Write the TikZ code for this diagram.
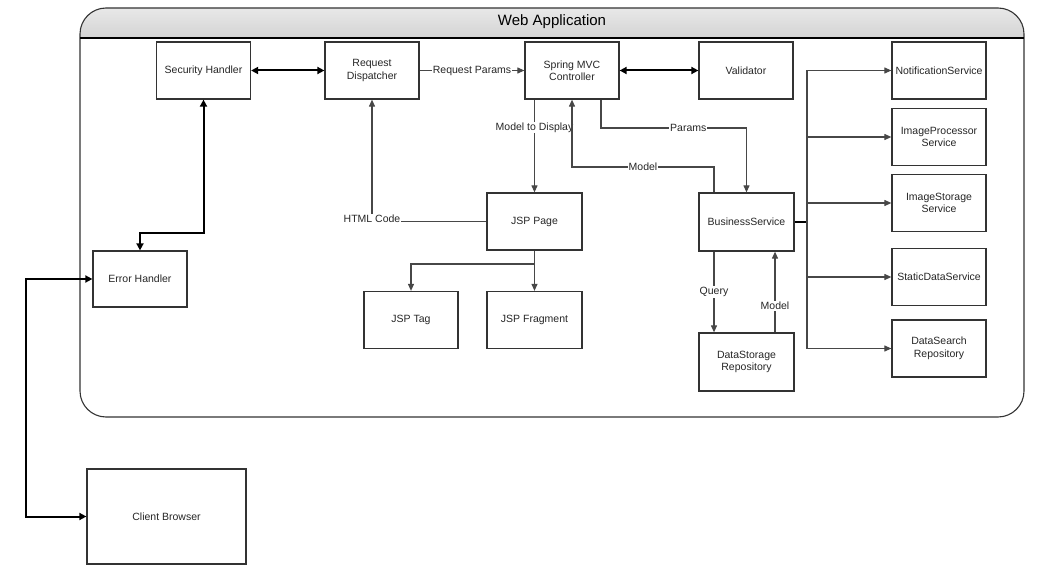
\documentclass[tikz,border=0pt]{standalone}
\usepackage{fontspec}
\setmainfont{Liberation Sans}
\usetikzlibrary{arrows.meta}

\tikzstyle{block} = [
        draw=black!80, line width=1.25pt, fill=white, rectangle, align=center,
        minimum height=57pt, minimum width=94pt, inner sep=2pt, text=black!85,
        font=\fontsize{10.5}{12.5}\selectfont
    ]
\tikzstyle{tmp} = [coordinate]
\tikzstyle{conn} = [draw=black!72, line width=1.1pt, -{Triangle[length=7pt,width=6pt]}]
\tikzstyle{thickconn} = [
        draw=black, line width=2pt,
        {Triangle[length=7pt,width=7pt]}-{Triangle[length=7pt,width=7pt]}
    ]
\tikzstyle{lbl} = [fill=white, inner sep=1pt, text=black!85, font=\fontsize{10.5}{12.5}\selectfont]

\begin{document}
\begin{tikzpicture}[x=1pt, y=-1pt]
        \useasboundingbox (0,0) rectangle (1045,572);
        % frame of the web application
        \begin{scope}
            \clip [rounded corners=26pt] (80,8) rectangle (1024,417);
            \shade [top color=black!9, middle color=black!2, bottom color=black!17] (80,8) rectangle (1024,38);
        \end{scope}
        \draw [black!80, line width=1.1pt, rounded corners=26pt] (80,8) rectangle (1024,417);
        \draw [black, line width=1.4pt] (80,38) -- (1024,38);
        \node [] (title) at (552,22) {\fontsize{15}{18}\selectfont Web Application};

        \node [block] (sechandler) at (203.5,70.5) {Security Handler};
        \node [block] (reqdisp) at (372,70.5) {Request\\Dispatcher};
        \node [block] (mvcctrl) at (572,70.5) {Spring MVC\\Controller};
        \node [block] (validator) at (746,70.5) {Validator};
        \node [block] (notifsvc) at (939,70.5) {NotificationService};
        \node [block] (imgproc) at (939,137) {ImageProcessor\\Service};
        \node [block] (imgstore) at (939,203) {ImageStorage\\Service};
        \node [block] (staticsvc) at (939,277) {StaticDataService};
        \node [block] (searchrepo) at (939,348.5) {DataSearch\\Repository};
        \node [block, minimum width=95pt] (jsppage) at (534.5,221.5) {JSP Page};
        \node [block] (jsptag) at (411,320) {JSP Tag};
        \node [block, minimum width=95pt, below of=jsppage, node distance=98.5pt] (jspfrag) {JSP Fragment};
        \node [block, minimum width=95pt, minimum height=58pt] (bizsvc) at (746.5,222) {BusinessService};
        \node [block, minimum width=95pt, minimum height=58pt, below of=bizsvc, node distance=140pt] (datastore) {DataStorage\\Repository};
        \node [block, minimum height=56pt] (errhandler) at (140,279) {Error Handler};
        \node [block, minimum width=159pt, minimum height=95pt] (browser) at (166.5,516.5) {Client Browser};

        \node [tmp] (secbend) at (203.5,233) {};
        \node [tmp] (clientbend) at (26,516.5) {};
        \node [tmp] (modelbend) at (714,167) {};
        \node [tmp] (paramsbend) at (601,128) {};
        \node [tmp] (tagbend) at (411,264) {};
        \node [tmp] (bus) at (807,222) {};

        \draw [thickconn] (sechandler) -- (reqdisp);
        \draw [thickconn] (mvcctrl) -- (validator);
        \draw [thickconn] (sechandler.south) -- (secbend) -| (errhandler.north);
        \draw [thickconn] (errhandler.west) -| (clientbend) -- (browser.west);
        \draw [conn] (reqdisp) -- node[lbl]{Request Params} (mvcctrl);
        \draw [conn] (jsppage.north |- mvcctrl.south) -- node[lbl, pos=0.3]{Model to Display} (jsppage.north);
        \draw [conn] (modelbend |- bizsvc.north) -- (modelbend) -- node[lbl]{Model} (modelbend -| mvcctrl) -- (mvcctrl.south);
        \draw [conn] (paramsbend |- mvcctrl.south) -- (paramsbend) -- node[lbl, pos=0.6]{Params} (paramsbend -| bizsvc) -- (bizsvc.north);
        \draw [conn] (jsppage.west) -- node[lbl, pos=1, yshift=3pt]{HTML Code} (jsppage.west -| reqdisp) -- (reqdisp.south);
        \draw [conn] (jsppage) -- (jspfrag);
        \draw [conn] (jsppage.south) |- (tagbend) -- (jsptag.north);
        \draw [conn] ([xshift=-32.5pt]bizsvc.south) -- node[lbl]{Query} ([xshift=-32.5pt]datastore.north);
        \draw [conn] ([xshift=28.5pt]datastore.north) -- node[lbl, pos=0.33]{Model} ([xshift=28.5pt]bizsvc.south);
        \draw [black, line width=2pt] (bizsvc.east) -- (bus);
        \draw [conn, -] (bus |- notifsvc) -- (bus |- searchrepo);
        \foreach \svc in {notifsvc, imgproc, imgstore, staticsvc, searchrepo}
            \draw [conn] (bus |- \svc) -- (\svc.west);
    \end{tikzpicture}
\end{document}
